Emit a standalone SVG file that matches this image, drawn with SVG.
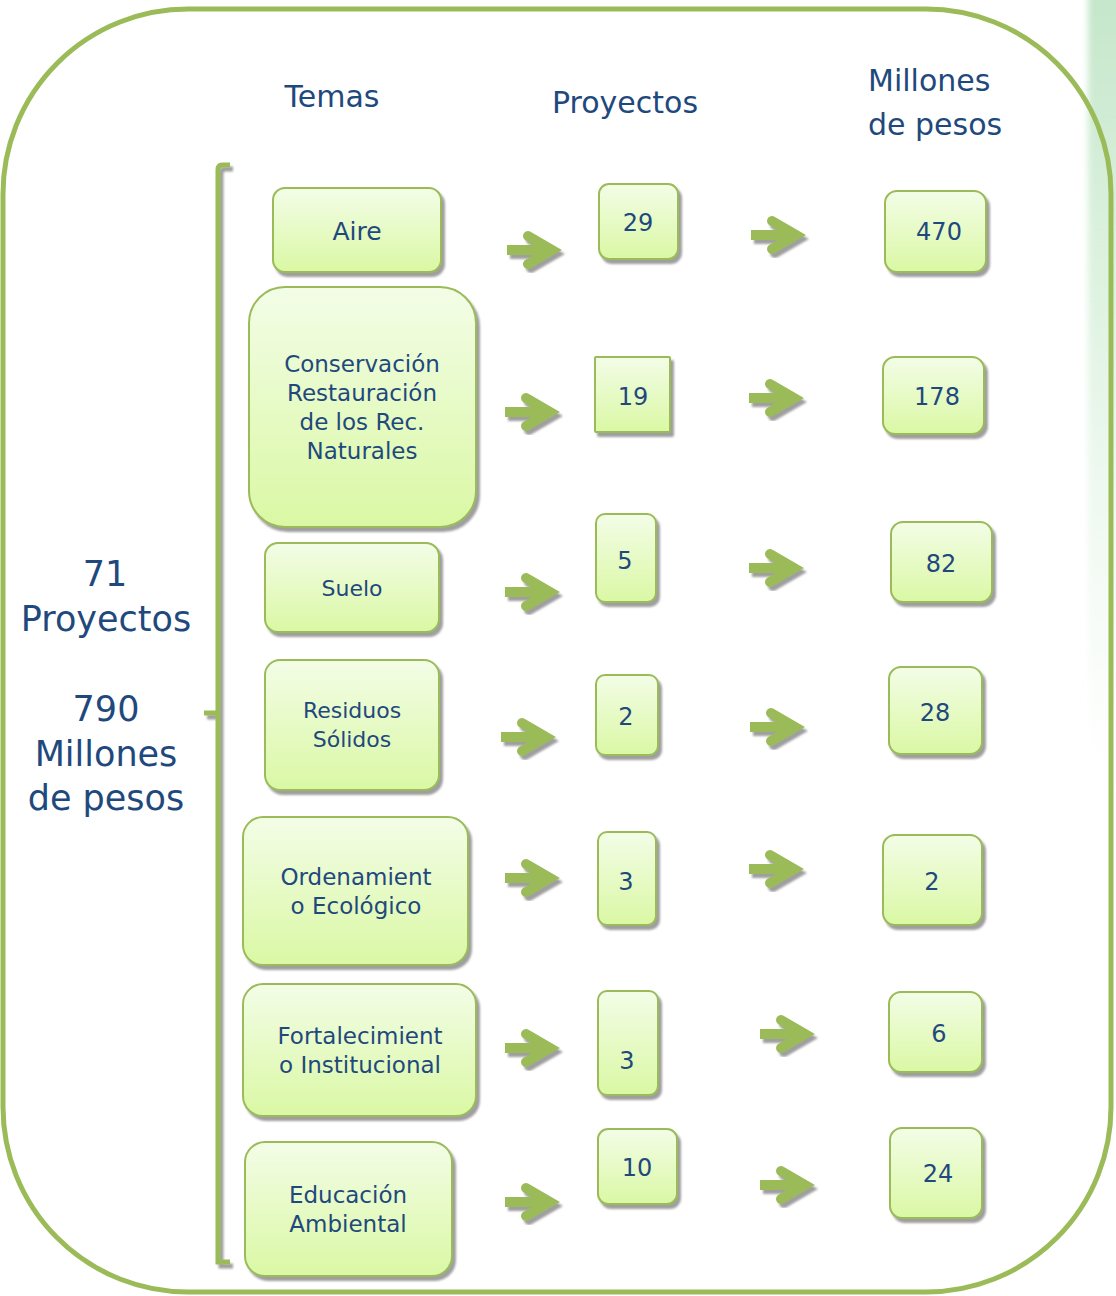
<svg xmlns="http://www.w3.org/2000/svg" xmlns:xlink="http://www.w3.org/1999/xlink" width="1116" height="1296" viewBox="0 0 1116 1296">
<defs>
<linearGradient id="boxg" x1="0" y1="0" x2="0" y2="1">
<stop offset="0" stop-color="#F3FDE7"/>
<stop offset="1" stop-color="#DAF8A4"/>
</linearGradient>
<linearGradient id="glowV" x1="0" y1="0" x2="0" y2="1">
<stop offset="0" stop-color="#C4E6C9" stop-opacity="1"/>
<stop offset="0.4" stop-color="#D3EED6" stop-opacity="0.7"/>
<stop offset="1" stop-color="#E4F4E6" stop-opacity="0"/>
</linearGradient>
<filter id="sh" x="-20%" y="-20%" width="150%" height="150%">
<feDropShadow dx="3" dy="4" stdDeviation="1" flood-color="#7F7F7F" flood-opacity="0.75"/>
</filter>
<filter id="blur" x="-50%" y="-10%" width="200%" height="120%">
<feGaussianBlur stdDeviation="3"/>
</filter>
<g id="arr" fill="none" stroke="#9BBB59" stroke-width="10">
<path d="M0,0 H40"/>
<path d="M21,-14 L45,0 L21,14" stroke-linejoin="miter" stroke-miterlimit="10" stroke-linecap="round"/>
</g>
</defs>
<style>
.box{fill:url(#boxg);stroke:#9BBB59;stroke-width:2;filter:url(#sh)}
.t{font-family:"DejaVu Sans","Liberation Sans",sans-serif;fill:#1F497D;text-anchor:middle}
.hd{font-size:30px}
.big{font-size:35px}
.nd{font-size:23px}
.num{font-size:24px}
.arrows use{filter:url(#sh)}
</style>
<rect width="1116" height="1296" fill="#FFFFFF"/>
<rect x="1088" y="-10" width="40" height="800" fill="url(#glowV)" filter="url(#blur)"/>
<rect x="3" y="9" width="1108" height="1283" rx="185" ry="185" fill="none" stroke="#9BBB59" stroke-width="5"/>

<g id="headers">
<text class="t hd" x="332" y="107">Temas</text>
<text class="t hd" x="625" y="113">Proyectos</text>
<text class="t hd" x="868" y="91" style="text-anchor:start">Millones</text>
<text class="t hd" x="868" y="135" style="text-anchor:start">de pesos</text>
</g>

<g id="summary">
<text class="t big" x="105" y="586">71</text>
<text class="t big" x="106" y="631">Proyectos</text>
<text class="t big" x="106" y="721">790</text>
<text class="t big" x="106" y="766">Millones</text>
<text class="t big" x="106" y="810">de pesos</text>
</g>

<g id="bracket" filter="url(#sh)">
<path d="M230,165 H222 Q218,165 218,170 V1262 H230 M218,713 H204" fill="none" stroke="#9BBB59" stroke-width="5"/>
</g>

<g id="temas">
<g id="t-aire"><rect class="box" x="273" y="188" width="168" height="84" rx="12"/><text class="t" x="357" y="240" font-size="25">Aire</text></g>
<g id="t-conservacion"><rect class="box" x="249" y="287" width="227" height="240" rx="36"/>
<text class="t nd" x="362" y="372">Conservación</text><text class="t nd" x="362" y="401">Restauración</text><text class="t nd" x="362" y="430">de los Rec.</text><text class="t nd" x="362" y="459">Naturales</text></g>
<g id="t-suelo"><rect class="box" x="265" y="543" width="174" height="89" rx="13"/><text class="t" x="352" y="596" font-size="22">Suelo</text></g>
<g id="t-residuos"><rect class="box" x="265" y="660" width="174" height="130" rx="15"/><text class="t" x="352" y="718" font-size="22">Residuos</text><text class="t" x="352" y="747" font-size="22">Sólidos</text></g>
<g id="t-ordenamiento"><rect class="box" x="243" y="817" width="225" height="148" rx="20"/><text class="t nd" x="356" y="885">Ordenamient</text><text class="t nd" x="356" y="914">o Ecológico</text></g>
<g id="t-fortalecimiento"><rect class="box" x="243" y="984" width="233" height="132" rx="20"/><text class="t nd" x="360" y="1044">Fortalecimient</text><text class="t nd" x="360" y="1073">o Institucional</text></g>
<g id="t-educacion"><rect class="box" x="245" y="1142" width="207" height="134" rx="20"/><text class="t nd" x="348" y="1203">Educación</text><text class="t nd" x="348" y="1232">Ambiental</text></g>
</g>

<g id="proyectos">
<g id="p-aire"><rect class="box" x="599" y="184" width="79" height="75" rx="10"/><text class="t num" x="638" y="231">29</text></g>
<g id="p-conservacion"><rect class="box" x="595" y="357" width="75" height="75" rx="1"/><text class="t num" x="633" y="405">19</text></g>
<g id="p-suelo"><rect class="box" x="596" y="514" width="60" height="88" rx="9"/><text class="t num" x="625" y="569">5</text></g>
<g id="p-residuos"><rect class="box" x="596" y="675" width="62" height="80" rx="9"/><text class="t num" x="626" y="725">2</text></g>
<g id="p-ordenamiento"><rect class="box" x="598" y="832" width="58" height="93" rx="9"/><text class="t num" x="626" y="890">3</text></g>
<g id="p-fortalecimiento"><rect class="box" x="598" y="991" width="60" height="104" rx="9"/><text class="t num" x="627" y="1069">3</text></g>
<g id="p-educacion"><rect class="box" x="598" y="1129" width="79" height="75" rx="10"/><text class="t num" x="637" y="1176">10</text></g>
</g>

<g id="millones">
<g id="m-aire"><rect class="box" x="885" y="191" width="101" height="81" rx="12"/><text class="t num" x="939" y="240">470</text></g>
<g id="m-conservacion"><rect class="box" x="883" y="357" width="101" height="77" rx="12"/><text class="t num" x="937" y="405">178</text></g>
<g id="m-suelo"><rect class="box" x="891" y="522" width="101" height="80" rx="12"/><text class="t num" x="941" y="572">82</text></g>
<g id="m-residuos"><rect class="box" x="889" y="667" width="93" height="87" rx="12"/><text class="t num" x="935" y="721">28</text></g>
<g id="m-ordenamiento"><rect class="box" x="883" y="835" width="99" height="90" rx="12"/><text class="t num" x="932" y="890">2</text></g>
<g id="m-fortalecimiento"><rect class="box" x="889" y="992" width="93" height="80" rx="12"/><text class="t num" x="939" y="1042">6</text></g>
<g id="m-educacion"><rect class="box" x="890" y="1128" width="92" height="90" rx="12"/><text class="t num" x="938" y="1182">24</text></g>
</g>

<g id="connectors" class="arrows">
<use xlink:href="#arr" x="507" y="250"/>
<use xlink:href="#arr" x="505" y="412"/>
<use xlink:href="#arr" x="505" y="592"/>
<use xlink:href="#arr" x="501" y="737"/>
<use xlink:href="#arr" x="505" y="878"/>
<use xlink:href="#arr" x="505" y="1048"/>
<use xlink:href="#arr" x="505" y="1202"/>
<use xlink:href="#arr" x="751" y="235"/>
<use xlink:href="#arr" x="749" y="398"/>
<use xlink:href="#arr" x="749" y="568"/>
<use xlink:href="#arr" x="750" y="727"/>
<use xlink:href="#arr" x="749" y="869"/>
<use xlink:href="#arr" x="760" y="1034"/>
<use xlink:href="#arr" x="760" y="1185"/>
</g>
</svg>
